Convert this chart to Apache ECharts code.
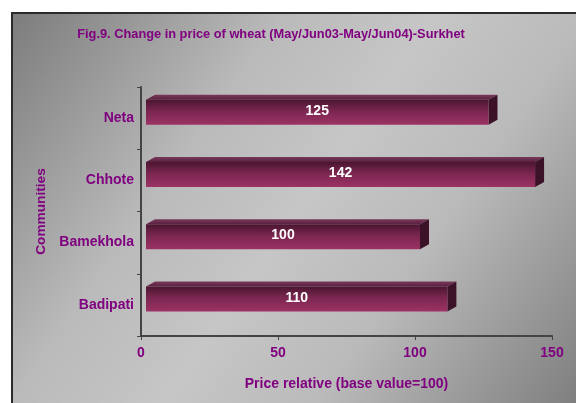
<!DOCTYPE html>
<html><head><meta charset="utf-8">
<script src="https://cdn.jsdelivr.net/npm/echarts@6/dist/echarts.min.js"></script>
<style>html,body{margin:0;padding:0;background:#fff}#c{width:576px;height:403px}</style>
</head><body><div id="c"></div>
<script>
const categories = ['Badipati', 'Bamekhola', 'Chhote', 'Neta'];
const values = [110, 100, 142, 125];
const xTicks = { min: 0, max: 150, interval: 50 };

const chart = echarts.init(document.getElementById('c'), null, { renderer: 'canvas' });
const purple = '#800080';
const font = 'Liberation Sans, Arial, sans-serif';

function renderItem(params, api) {
  const v = api.value(0);
  const ci = api.value(1);
  const s = api.coord([0, ci]);
  const e = api.coord([v, ci]);
  const off = 5, h = 25, dx = 9, dy = 5;
  const x0 = s[0] + off, x1 = e[0] + off;
  const y0 = s[1] - 6 - h / 2, y1 = y0 + h;
  return {
    type: 'group',
    children: [
      { type: 'polygon', shape: { points: [[x0, y0], [x0 + dx, y0 - dy], [x1 + dx, y0 - dy], [x1, y0]] },
        style: { fill: new echarts.graphic.LinearGradient(0, 0, 0, 1, [{ offset: 0, color: '#7a3a5a' }, { offset: 1, color: '#5a2040' }]) } },
      { type: 'polygon', shape: { points: [[x1, y0], [x1 + dx, y0 - dy], [x1 + dx, y1 - dy], [x1, y1]] },
        style: { fill: '#3c1229' } },
      { type: 'rect', shape: { x: x0, y: y0, width: x1 - x0, height: h },
        style: { fill: new echarts.graphic.LinearGradient(0, 0, 0, 1, [
          { offset: 0, color: '#4a1530' }, { offset: 0.45, color: '#7a2650' }, { offset: 1, color: '#9c3264' }]) } },
      { type: 'text', x: (x0 + x1) / 2, y: (y0 + y1) / 2 - 1,
        style: { text: String(v), fill: '#ffffff', font: 'bold 14px ' + font, align: 'center', verticalAlign: 'middle' } }
    ]
  };
}

chart.setOption({
  animation: false,
  graphic: [{
    type: 'rect', z: -10, silent: true,
    shape: { x: 12, y: 13, width: 570, height: 400 },
    style: {
      fill: new echarts.graphic.LinearGradient(0, 0, 1, 1, [
        { offset: 0, color: '#7c7c7c' }, { offset: 0.32, color: '#bababa' },
        { offset: 0.5, color: '#c6c6c6' }, { offset: 0.68, color: '#bababa' }, { offset: 1, color: '#7c7c7c' }]),
      stroke: '#2a2a2a', lineWidth: 2
    }
  }],
  title: {
    text: 'Fig.9. Change in price of wheat (May/Jun03-May/Jun04)-Surkhet',
    left: 266, top: 23, textAlign: 'center',
    textStyle: { color: purple, fontSize: 12.8, fontWeight: 'bold', fontFamily: font }
  },
  grid: { left: 141, right: 24, top: 87, bottom: 67 },
  xAxis: {
    type: 'value', min: xTicks.min, max: xTicks.max, interval: xTicks.interval,
    name: 'Price relative (base value=100)', nameLocation: 'middle', nameGap: 41,
    nameTextStyle: { color: purple, fontSize: 14, fontWeight: 'bold', fontFamily: font },
    axisLine: { show: true, lineStyle: { color: '#444', width: 2 } },
    axisTick: { show: true, length: 4, lineStyle: { color: '#444', width: 1 } },
    axisLabel: { color: purple, fontSize: 14, fontWeight: 'bold', fontFamily: font, margin: 10 },
    splitLine: { show: false }
  },
  yAxis: {
    type: 'category', data: categories, boundaryGap: true,
    name: 'Communities', nameLocation: 'middle', nameGap: 91, nameRotate: 90,
    nameTextStyle: { color: purple, fontSize: 13.7, fontWeight: 'bold', fontFamily: font },
    axisLine: { show: true, lineStyle: { color: '#444', width: 2 } },
    axisTick: { show: true, length: 4, lineStyle: { color: '#444', width: 1 } },
    axisLabel: { color: purple, fontSize: 14, fontWeight: 'bold', fontFamily: font, margin: 7 },
    splitLine: { show: false }
  },
  series: [{
    type: 'custom', renderItem: renderItem,
    encode: { x: 0, y: 1 },
    data: values.map((v, i) => [v, i])
  }]
});
</script></body></html>
